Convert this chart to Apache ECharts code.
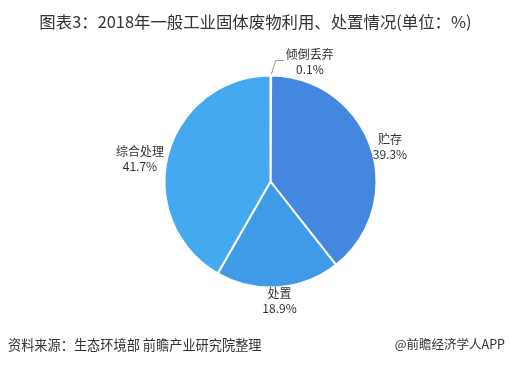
<!DOCTYPE html>
<html><head><meta charset="utf-8">
<script src="https://cdn.jsdelivr.net/npm/echarts@6/dist/echarts.min.js"></script>
<style>html,body{margin:0;padding:0;background:#fff}#c{width:511px;height:365px}</style>
</head><body><div id="c"></div>
<script>
const titleText = '图表3：2018年一般工业固体废物利用、处置情况(单位：%)';
const sourceText = '资料来源：生态环境部 前瞻产业研究院整理';
const brandText = '@前瞻经济学人APP';
const categories = ['倾倒丢弃', '贮存', '处置', '综合处理'];
const values = [0.1, 39.3, 18.9, 41.7];
const colors = ['#3F8FE6', '#4387E1', '#3F9BE7', '#45A9EF'];
const labelNudge = [[0, 0], [1, 5], [0, -3], [-3, 9]];

const chart = echarts.init(document.getElementById('c'), null, {renderer: 'canvas'});
const FONT = '"Noto Sans CJK SC", "Microsoft YaHei", sans-serif';
chart.setOption({
  animation: false,
  backgroundColor: '#fff',
  title: {
    text: titleText, left: 'center', top: 9,
    textStyle: {fontSize: 16.4, fontWeight: 'normal', color: '#333', fontFamily: FONT}
  },
  graphic: [
    {type: 'text', left: 8, top: 338, style: {text: sourceText, font: '13.2px ' + FONT, fill: '#333'}},
    {type: 'text', right: 6, top: 338, style: {text: brandText, font: '12.5px ' + FONT, fill: '#333'}}
  ],
  series: [{
    type: 'pie',
    center: [270.5, 181.5],
    radius: 106,
    startAngle: 90,
    clockwise: true,
    avoidLabelOverlap: false,
    data: categories.map((n, i) => ({
      name: n, value: values[i],
      itemStyle: {color: colors[i]},
      labelLine: i === 0 ? {show: true, lineStyle: {color: '#999', width: 1}} : {show: true, lineStyle: {color: 'rgba(0,0,0,0)', width: 0}}
    })),
    itemStyle: {borderColor: '#fff', borderWidth: 2},
    label: {
      show: true, position: 'outside',
      formatter: p => p.name + '\n' + p.value + '%',
      fontSize: 12, lineHeight: 15, color: '#333', fontFamily: FONT
    },
    labelLine: {length: 10, length2: 0},
    labelLayout: function (params) {
      const i = params.dataIndex;
      const pts = params.labelLinePoints;
      if (!pts) return {};
      const a = pts[0], b = pts[1];
      let ux = b[0] - a[0], uy = b[1] - a[1];
      const L = Math.hypot(ux, uy) || 1; ux /= L; uy /= L;
      const w = params.labelRect.width, h = params.labelRect.height;
      if (i === 0) {
        const p1 = [a[0] + 5, a[1] - 15];
        const p2 = [p1[0] + 8, p1[1]];
        return {x: p2[0] + 2 + w / 2, y: p2[1] + 1, align: 'center', verticalAlign: 'middle',
                labelLinePoints: [a, p1, p2]};
      }
      const gap = 2;
      return {
        x: a[0] + ux * (w / 2 + gap) + labelNudge[i][0],
        y: a[1] + uy * (h / 2 + gap) + labelNudge[i][1],
        align: 'center', verticalAlign: 'middle'
      };
    }
  }]
});
</script></body></html>
